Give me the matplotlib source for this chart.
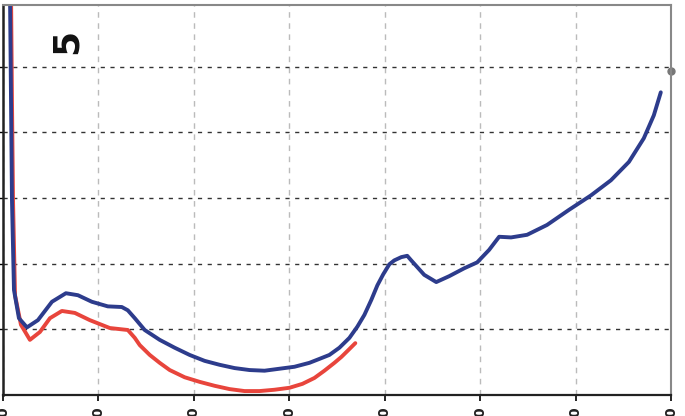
import matplotlib.pyplot as plt

# x positions of grid columns and their (cut-off) labels
x_ticks = [0, 1, 2, 3, 4, 5, 6, 7]
x_tick_labels = ["0", "0", "0", "0", "0", "0", "0", "0"]
y_ticks = [1, 2, 3, 4, 5]

blue_x = [0.073, 0.084, 0.094, 0.115, 0.167, 0.251, 0.366, 0.513, 0.659, 0.785,
          0.931, 1.098, 1.245, 1.308, 1.381, 1.485, 1.642, 1.799, 1.956, 2.113,
          2.270, 2.427, 2.584, 2.741, 2.897, 3.054, 3.211, 3.316, 3.420, 3.525,
          3.630, 3.713, 3.787, 3.860, 3.923, 3.985, 4.048, 4.100, 4.174, 4.236,
          4.278, 4.414, 4.540, 4.676, 4.833, 4.969, 5.094, 5.199, 5.324, 5.492,
          5.701, 5.931, 6.161, 6.370, 6.559, 6.715, 6.820, 6.893]
blue_y = [6.16, 4.49, 2.97, 1.60, 1.17, 1.03, 1.14, 1.42, 1.55, 1.52,
          1.42, 1.35, 1.34, 1.29, 1.17, 0.99, 0.84, 0.72, 0.61, 0.52,
          0.46, 0.41, 0.38, 0.37, 0.40, 0.43, 0.49, 0.55, 0.61, 0.72,
          0.87, 1.04, 1.22, 1.45, 1.67, 1.84, 1.99, 2.05, 2.10, 2.12,
          2.05, 1.83, 1.72, 1.81, 1.93, 2.02, 2.21, 2.41, 2.40, 2.44,
          2.59, 2.82, 3.04, 3.27, 3.55, 3.91, 4.26, 4.61]

red_x = [0.084, 0.094, 0.105, 0.126, 0.188, 0.282, 0.387, 0.492, 0.617, 0.753,
         0.910, 1.119, 1.308, 1.381, 1.433, 1.538, 1.642, 1.747, 1.904, 2.061,
         2.218, 2.374, 2.531, 2.688, 2.845, 3.002, 3.138, 3.264, 3.368, 3.473,
         3.546, 3.609, 3.692]
red_y = [6.16, 4.49, 2.97, 1.52, 1.07, 0.84, 0.96, 1.17, 1.28, 1.25,
         1.14, 1.02, 0.99, 0.87, 0.76, 0.61, 0.49, 0.38, 0.27, 0.20,
         0.14, 0.09, 0.06, 0.06, 0.08, 0.11, 0.17, 0.26, 0.37, 0.49,
         0.58, 0.67, 0.79]

marker_point = (7.0, 4.93)
panel_label = "5"

fig = plt.figure(figsize=(6.85, 4.16), dpi=100)
ax = fig.add_axes([3 / 685, 1 - 395 / 416, 668 / 685, 390 / 416])

ax.plot(red_x, red_y, color="#e8453c", lw=2.8, solid_capstyle="round", solid_joinstyle="round")
ax.plot(blue_x, blue_y, color="#2d3c8c", lw=2.8, solid_capstyle="round", solid_joinstyle="round")

ax.set_xlim(0, 7)
ax.set_ylim(0, 5.94)
ax.set_xticks(x_ticks)
ax.set_xticklabels(x_tick_labels, rotation=90, fontsize=10, fontweight="bold", color="#222222")
ax.set_yticks(y_ticks)
ax.set_yticklabels([])
ax.tick_params(axis="x", length=4, width=1.2, pad=5, direction="out")
ax.tick_params(axis="y", length=4, width=1.0, direction="out")

ax.grid(axis="y", linestyle=(0, (3, 4)), color="#333333", lw=1.0)
ax.grid(axis="x", linestyle=(0, (4, 4)), color="#bbbbbb", lw=1.0)

for side in ["top", "right"]:
    ax.spines[side].set_color("#888888")
    ax.spines[side].set_linewidth(1.5)
ax.spines["left"].set_color("#222222")
ax.spines["left"].set_linewidth(1.8)
ax.spines["bottom"].set_color("#222222")
ax.spines["bottom"].set_linewidth(1.6)

ax.plot(*marker_point, "o", color="#777777", ms=5, clip_on=False)

ax.text(0.67, 5.38, panel_label, rotation=90, fontsize=26, fontweight="bold",
        ha="center", va="center", color="#111111")

fig.savefig("out.png", dpi=100)
